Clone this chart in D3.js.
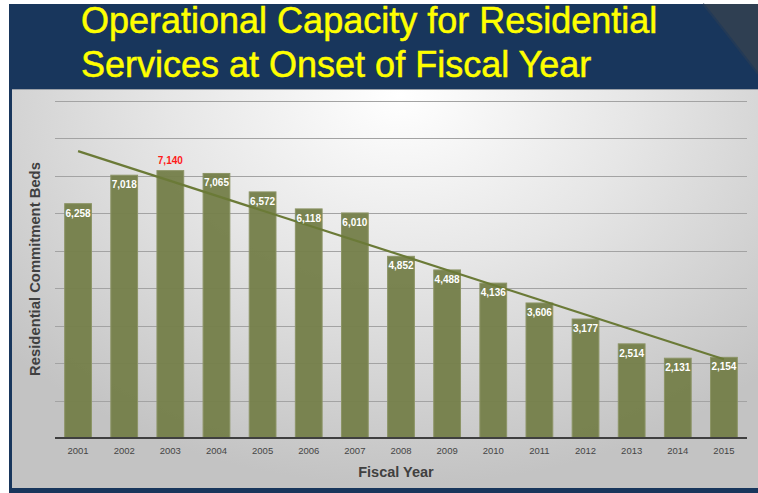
<!DOCTYPE html>
<html>
<head>
<meta charset="utf-8">
<script src="https://cdn.jsdelivr.net/npm/d3@7"></script>
<style>
  html, body { margin: 0; padding: 0; background: #ffffff; }
  svg { display: block; }
</style>
</head>
<body>
<svg id="chart" width="758" height="493"></svg>
<script>
// Fiscal years and residential commitment beds available at the start of each year
const years = ["2001","2002","2003","2004","2005","2006","2007","2008","2009","2010","2011","2012","2013","2014","2015"];
const beds  = [6258, 7018, 7140, 7065, 6572, 6118, 6010, 4852, 4488, 4136, 3606, 3177, 2514, 2131, 2154];
const gridValues = [1000, 2000, 3000, 4000, 5000, 6000, 7000, 8000, 9000];
const highlightYear = "2003";
const titleLines = ["Operational Capacity for Residential", "Services at Onset of Fiscal Year"];
const yTitle = "Residential Commitment Beds";
const xTitle = "Fiscal Year";

const data = years.map((y, i) => ({ year: y, value: beds[i] }));

const svg = d3.select("#chart");
const W = 758, H = 493;

// ---- slide frame ----
const defs = svg.append("defs");
const grad = defs.append("radialGradient")
  .attr("id", "panelGrad")
  .attr("gradientUnits", "userSpaceOnUse")
  .attr("cx", 400).attr("cy", 95)
  .attr("r", 520)
  .attr("gradientTransform", "translate(400,95) scale(1,0.75) translate(-400,-95)");
grad.append("stop").attr("offset", "0%").attr("stop-color", "#ffffff");
grad.append("stop").attr("offset", "45%").attr("stop-color", "#e6e6e6");
grad.append("stop").attr("offset", "100%").attr("stop-color", "#c3c3c3");

svg.append("rect").attr("x", 9).attr("y", 4).attr("width", W - 9).attr("height", H - 4)
  .attr("fill", "#18365c");

// lighter diagonal accent in the header corner
svg.append("path")
  .attr("d", "M703,4 C718,22 738,48 758,74 L758,4 Z")
  .attr("fill", "#2f3f52");
svg.append("path")
  .attr("d", "M703,4 C718,22 738,48 758,74")
  .attr("fill", "none").attr("stroke", "#233a57").attr("stroke-width", 2);

// grey plot panel
svg.append("rect").attr("x", 12).attr("y", 89).attr("width", W - 12).attr("height", 399)
  .attr("fill", "url(#panelGrad)");
svg.append("line").attr("x1", 12).attr("x2", W).attr("y1", 89.5).attr("y2", 89.5)
  .attr("stroke", "#9aa0a8").attr("stroke-width", 1);

// ---- title ----
const title = svg.append("g")
  .attr("font-family", "'Liberation Sans Narrow', 'Arial Narrow', 'Liberation Sans', Arial, sans-serif")
  .attr("font-size", 36)
  .attr("fill", "#ffff00")
  .attr("stroke", "#ffff00")
  .attr("stroke-width", 0.5);
const titleWidths = [578, 506];
titleLines.forEach((t, i) => {
  const el = title.append("text")
    .attr("x", 81).attr("y", 33 + i * 43.5)
    .text(t);
  const natural = el.node().getComputedTextLength();
  if (Math.abs(natural - titleWidths[i]) > 6) {
    el.attr("textLength", titleWidths[i]).attr("lengthAdjust", "spacingAndGlyphs");
  }
});

// ---- scales ----
const x = d3.scaleBand()
  .domain(years)
  .range([55, 747])
  .paddingInner(0.42)
  .paddingOuter(0.21);

const y = d3.scaleLinear()
  .domain([0, 9000])
  .range([438, 101]);

// gridlines
const grid = svg.append("g").attr("class", "grid");
grid.selectAll("line")
  .data(gridValues)
  .join("line")
  .attr("x1", 55).attr("x2", 747)
  .attr("y1", d => Math.round(y(d)) + 0.5)
  .attr("y2", d => Math.round(y(d)) + 0.5)
  .attr("stroke", "#a3a3a3")
  .attr("stroke-width", 1);

// bars
svg.append("g").selectAll("rect")
  .data(data)
  .join("rect")
  .attr("x", d => x(d.year))
  .attr("y", d => y(d.value))
  .attr("width", x.bandwidth())
  .attr("height", d => y(0) - y(d.value))
  .attr("fill", "#76804b")
  .attr("fill-opacity", 0.97)
  .attr("stroke", "#8c9466")
  .attr("stroke-width", 1);

// baseline / x axis
const xAxis = svg.append("g")
  .attr("transform", `translate(0,${y(0)})`)
  .call(d3.axisBottom(x).tickSize(0).tickPadding(9));
xAxis.select(".domain").attr("stroke", "#3f3f3f").attr("stroke-width", 2)
  .attr("d", "M55,0H747");
xAxis.selectAll("text")
  .attr("font-family", "'Liberation Sans', Arial, sans-serif")
  .attr("font-size", 9.5)
  .attr("fill", "#454545");

// least-squares trend line over the series
const n = beds.length;
const xs = d3.range(1, n + 1);
const mx = d3.mean(xs), my = d3.mean(beds);
const slope = d3.sum(xs, (v, i) => (v - mx) * (beds[i] - my)) / d3.sum(xs, v => (v - mx) ** 2);
const intercept = my - slope * mx;
const trend = [
  { year: years[0], value: intercept + slope * xs[0] },
  { year: years[n - 1], value: intercept + slope * xs[n - 1] }
];
svg.append("path")
  .datum(trend)
  .attr("d", d3.line().x(d => x(d.year) + x.bandwidth() / 2).y(d => y(d.value)))
  .attr("fill", "none")
  .attr("stroke", "#6b7a37")
  .attr("stroke-width", 2.2);

// value labels
const fmt = d3.format(",");
svg.append("g")
  .attr("font-family", "'Liberation Sans', Arial, sans-serif")
  .attr("font-weight", "bold")
  .attr("font-size", 10)
  .attr("text-anchor", "middle")
  .selectAll("text")
  .data(data)
  .join("text")
  .attr("x", d => x(d.year) + x.bandwidth() / 2)
  .attr("y", d => d.year === highlightYear ? y(d.value) - 7 : y(d.value) + 13)
  .attr("fill", d => d.year === highlightYear ? "#ff1a1a" : "#ffffff")
  .text(d => fmt(d.value));

// axis titles
svg.append("text")
  .attr("transform", `translate(40,269) rotate(-90)`)
  .attr("text-anchor", "middle")
  .attr("font-family", "'Liberation Sans', Arial, sans-serif")
  .attr("font-weight", "bold")
  .attr("font-size", 14.8)
  .attr("fill", "#404040")
  .text(yTitle);

svg.append("text")
  .attr("x", 396).attr("y", 477)
  .attr("text-anchor", "middle")
  .attr("font-family", "'Liberation Sans', Arial, sans-serif")
  .attr("font-weight", "bold")
  .attr("font-size", 14.5)
  .attr("fill", "#404040")
  .text(xTitle);
</script>
</body>
</html>
